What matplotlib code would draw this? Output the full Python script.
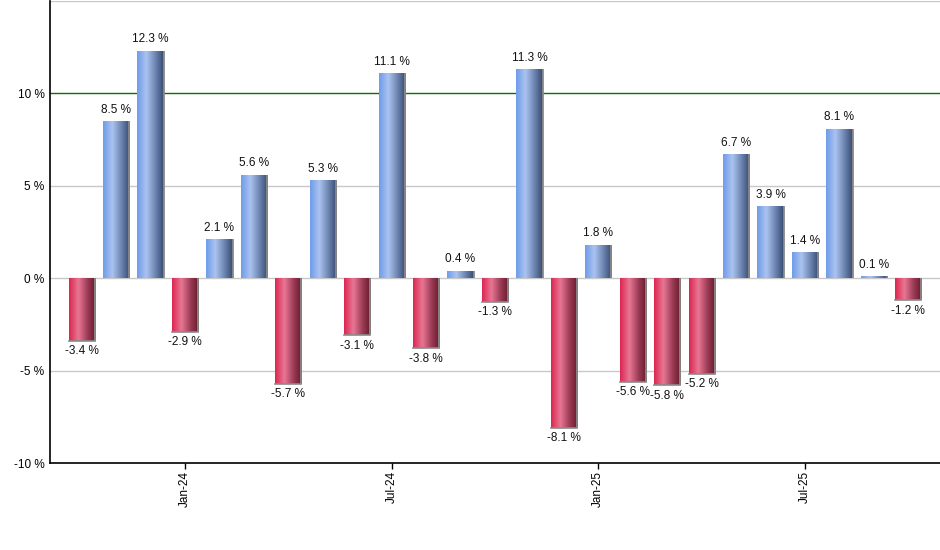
import numpy as np
import matplotlib
matplotlib.use("Agg")
import matplotlib.pyplot as plt
from matplotlib.colors import LinearSegmentedColormap

months = ["Oct-23", "Nov-23", "Dec-23", "Jan-24", "Feb-24", "Mar-24", "Apr-24", "May-24",
          "Jun-24", "Jul-24", "Aug-24", "Sep-24", "Oct-24", "Nov-24", "Dec-24", "Jan-25",
          "Feb-25", "Mar-25", "Apr-25", "May-25", "Jun-25", "Jul-25", "Aug-25", "Sep-25", "Oct-25"]
returns = [-3.4, 8.5, 12.3, -2.9, 2.1, 5.6, -5.7, 5.3, -3.1, 11.1, -3.8, 0.4, -1.3, 11.3,
           -8.1, 1.8, -5.6, -5.8, -5.2, 6.7, 3.9, 1.4, 8.1, 0.1, -1.2]
tick_labels = ["Jan-24", "Jul-24", "Jan-25", "Jul-25"]
y_ticks = [-10, -5, 0, 5, 10]

plt.rcParams['font.family'] = ['Liberation Sans', 'DejaVu Sans']

fig = plt.figure(figsize=(9.4, 5.5), dpi=100)
ax = fig.add_axes([50/940, 87/550, 890/940, 462/550])

blue_cmap = LinearSegmentedColormap.from_list(
    "b", [(0.0, "#6e9be9"), (0.35, "#abc3f0"), (0.7, "#6a82ae"), (1.0, "#374a6e")])
red_cmap = LinearSegmentedColormap.from_list(
    "r", [(0.0, "#dc2550"), (0.35, "#e87794"), (0.7, "#9a3a55"), (1.0, "#641828")])

x = np.arange(len(returns))
width = 0.76
bars = ax.bar(x, returns, width=width, color="none", edgecolor="none", zorder=3)
grad = np.linspace(0, 1, 256).reshape(1, -1)
for b, v in zip(bars, returns):
    x0 = b.get_x(); w = b.get_width()
    cmap = blue_cmap if v >= 0 else red_cmap
    im = ax.imshow(grad, cmap=cmap, aspect='auto', extent=[x0, x0 + w, 0, v],
                   origin='lower', zorder=3, interpolation='bilinear')
    im.set_clip_path(b)
    # shadow on right and end
    ax.plot([x0 + w, x0 + w], [0, v], color="#8a8a8a", lw=1.3, zorder=3.5,
            solid_capstyle='butt')
    if v < 0:
        ax.plot([x0, x0 + w], [v, v], color="#8a8a8a", lw=1.2, zorder=3.5)
    label = f"{v:.1f} %"
    if v >= 0:
        ax.annotate(label, (x0 + w/2, v), xytext=(0, 4), textcoords="offset points",
                    ha="center", va="bottom", fontsize=8.5, color="#111111", zorder=5)
    else:
        ax.annotate(label, (x0 + w/2, v), xytext=(0, -3), textcoords="offset points",
                    ha="center", va="top", fontsize=8.5, color="#111111", zorder=5)

ax.set_xlim(-0.92, 24.92)
ax.set_ylim(-10, 15)

for yv in [-5, 0, 5, 15]:
    ax.axhline(yv, color="#c8c8c8", lw=1, zorder=1)
ax.axhline(10, color="#0a6e0a", lw=1, zorder=1)

ax.set_yticks(y_ticks)
ax.set_yticklabels([f"{t} %" for t in y_ticks], fontsize=8.5)
ax.tick_params(axis='y', length=0, pad=4)

tick_pos = [months.index(t) for t in tick_labels]
ax.set_xticks(tick_pos)
ax.set_xticklabels(tick_labels, rotation=90, fontsize=8.5)
ax.tick_params(axis='x', length=4, width=1, pad=2, color="black")

ax.spines['top'].set_visible(False)
ax.spines['right'].set_visible(False)
ax.spines['left'].set_color("black")
ax.spines['bottom'].set_color("black")
ax.spines['left'].set_linewidth(1.2)
ax.spines['bottom'].set_linewidth(1.2)

fig.savefig("out.png", dpi=100)
